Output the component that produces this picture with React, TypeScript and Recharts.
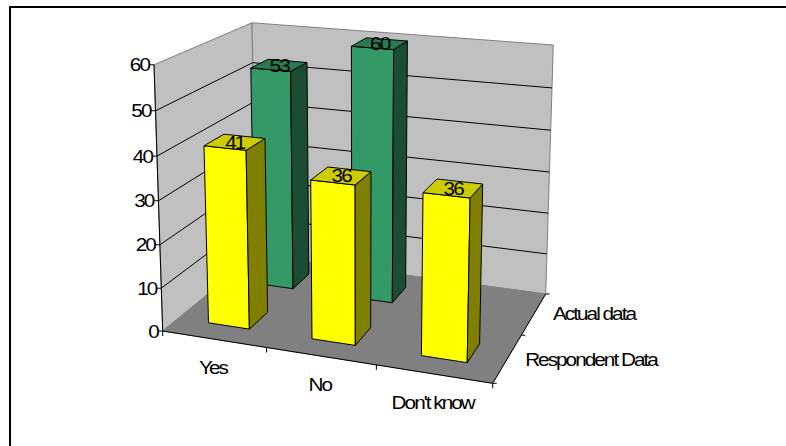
import { Bar, BarChart, CartesianGrid, LabelList, XAxis, YAxis } from 'recharts';

const categories = ['Yes', 'No', "Don't know"];
const respondentData = [41, 36, 36];
const actualData = [53, 60, null];
const seriesNames = ['Respondent Data', 'Actual data'];
const valueTicks = [0, 10, 20, 30, 40, 50, 60];

const rows = categories.map((name, i) => ({
  name,
  respondent: respondentData[i],
  actual: actualData[i],
}));

const WIDTH = 786;
const HEIGHT = 446;
// flat plot box that the recharts scales work in, before projecting to 3D
const PLOT = { left: 100, top: 60, width: 500, height: 300 };
const FONT = '"Liberation Sans", Arial, sans-serif';

type Pt = [number, number];

// floor corners: front-left, front-right, back-right, back-left
const FLOOR: Pt[] = [[162.7, 331], [492.7, 383.3], [545.7, 294], [256, 255]];
// verticals converge on this point, far below the chart
const VANISH: Pt = [361, 6373];
const RISE = -0.0422;

const floorH = (() => {
  const [[x0, y0], [x1, y1], [x2, y2], [x3, y3]] = FLOOR;
  const dx1 = x1 - x2, dx2 = x3 - x2, sx = x0 - x1 + x2 - x3;
  const dy1 = y1 - y2, dy2 = y3 - y2, sy = y0 - y1 + y2 - y3;
  const den = dx1 * dy2 - dx2 * dy1;
  const g = (sx * dy2 - dx2 * sy) / den;
  const h = (dx1 * sy - sx * dy1) / den;
  return { x0, y0, ax: x1 - x0 + g * x1, bx: x3 - x0 + h * x3, ay: y1 - y0 + g * y1, by: y3 - y0 + h * y3, g, h };
})();

// (u along categories, v up the value axis, w into the depth) to screen
function project(u: number, v: number, w: number): Pt {
  const H = floorH;
  const nx = H.ax * u + H.bx * w + H.x0;
  const ny = H.ay * u + H.by * w + H.y0;
  const d = H.g * u + H.h * w + 1;
  const k = v * RISE;
  return [(nx + k * VANISH[0]) / (d + k), (ny + k * VANISH[1]) / (d + k)];
}

const toU = (x: number) => (x - PLOT.left) / PLOT.width;
const toV = (y: number) => (PLOT.top + PLOT.height - y) / PLOT.height;
const pts = (list: Pt[]) => list.map((p) => `${p[0].toFixed(1)},${p[1].toFixed(1)}`).join(' ');

// Arial look: glyphs stretched sideways and packed tight
function Txt({ x, y, anchor = 'middle', children }: any) {
  return (
    <text
      transform={`translate(${x} ${y}) scale(1.12 1)`}
      textAnchor={anchor}
      dominantBaseline="central"
      fontFamily={FONT}
      fontSize={18.5}
      letterSpacing={-1.75}
      fill="#000"
    >
      {children}
    </text>
  );
}

// walls, floor, axis lines and the series names sit behind the chart svg
function Backdrop() {
  const tick = (p: Pt, dx: number, dy: number) => (
    <line x1={p[0]} y1={p[1]} x2={p[0] + dx} y2={p[1] + dy} stroke="#000" />
  );
  const spots: Pt[] = [[591, 359], [594, 313]];
  return (
    <svg width={WIDTH} height={HEIGHT} style={{ position: 'absolute', left: 0, top: 0 }}>
      <polygon points={pts([project(0, 0, 0), project(0, 1, 0), project(0, 1, 1), project(0, 0, 1)])} fill="#c0c0c0" stroke="#808080" />
      <polygon points={pts([project(0, 0, 1), project(0, 1, 1), project(1, 1, 1), project(1, 0, 1)])} fill="#c0c0c0" stroke="#808080" />
      <polygon points={pts(FLOOR)} fill="#808080" stroke="#808080" />
      <polyline points={pts([project(0, 1, 0), project(0, 0, 0), project(1, 0, 0), project(1, 0, 1)])} fill="none" stroke="#000" />
      {categories.map((_, i) => <g key={i}>{tick(project((i + 1) / categories.length, 0, 0), 0, 5)}</g>)}
      {tick(project(0, 0, 0), 0, 5)}
      {seriesNames.map((_, i) => <g key={i}>{tick(project(1, 0, (i + 1) / seriesNames.length), 4, 0)}</g>)}
      {tick(project(1, 0, 0), 4, 0)}
      {seriesNames.map((name, i) => (
        <Txt key={name} x={spots[i][0]} y={spots[i][1]}>{name}</Txt>
      ))}
    </svg>
  );
}

function ValueTick({ y, payload }: any) {
  const p = project(0, toV(y), 0);
  return (
    <g>
      <line x1={p[0] - 4} y1={p[1]} x2={p[0]} y2={p[1]} stroke="#000" />
      <Txt x={p[0] - 5} y={p[1]} anchor="end">{payload.value}</Txt>
    </g>
  );
}

function CategoryTick({ x, payload }: any) {
  const p = project(toU(x), 0, 0);
  return <Txt x={p[0] - 1} y={p[1] + 28}>{payload.value}</Txt>;
}

// grid line runs along the side wall and on across the back wall
function GridLine({ y1 }: any) {
  const v = toV(y1);
  if (v <= 0.001 || v >= 0.999) return null;
  return <polyline points={pts([project(0, v, 0), project(0, v, 1), project(1, v, 1)])} fill="none" stroke="#000" />;
}

// box for one value; depth row [w0, w1] is bound per series
function box(w0: number, w1: number, front: string, side: string, top: string) {
  return ({ x, y, width, height }: any) => {
    if (!height) return <g />;
    const u0 = toU(x);
    const u1 = toU(x + width);
    const v = toV(y);
    return (
      <g stroke="#000" strokeLinejoin="round">
        <polygon points={pts([project(u0, 0, w0), project(u1, 0, w0), project(u1, v, w0), project(u0, v, w0)])} fill={front} />
        <polygon points={pts([project(u1, 0, w0), project(u1, 0, w1), project(u1, v, w1), project(u1, v, w0)])} fill={side} />
        <polygon points={pts([project(u0, v, w0), project(u1, v, w0), project(u1, v, w1), project(u0, v, w1)])} fill={top} />
      </g>
    );
  };
}

function topLabel(w: number) {
  return ({ x, y, width, value }: any) => {
    if (value == null) return null;
    const p = project(toU(x + width / 2), toV(y), w);
    return <Txt x={p[0]} y={p[1]}>{value}</Txt>;
  };
}

export default function App() {
  return (
    <div style={{ position: 'absolute', left: 0, top: 0, width: WIDTH, height: HEIGHT, background: '#fff', overflow: 'hidden' }}>
      <div style={{ position: 'absolute', left: 9, top: 6, width: WIDTH, height: HEIGHT, borderLeft: '2px solid #000', borderTop: '2px solid #000' }} />
      <Backdrop />
      <div style={{ position: 'absolute', left: 0, top: 0 }}>
        <BarChart
          width={WIDTH}
          height={HEIGHT}
          data={rows}
          barCategoryGap="30%"
          margin={{ left: PLOT.left - 1, top: PLOT.top, right: WIDTH - PLOT.left - PLOT.width, bottom: HEIGHT - PLOT.top - PLOT.height - 1 }}
        >
          <CartesianGrid horizontal={(props: any) => <GridLine key={props.index} {...props} />} vertical={false} />
          <XAxis dataKey="name" height={1} axisLine={false} tickLine={false} interval={0} tick={<CategoryTick />} />
          <XAxis xAxisId="back" dataKey="name" hide />
          <YAxis domain={[0, 60]} ticks={valueTicks} width={1} axisLine={false} tickLine={false} tick={<ValueTick />} />
          <Bar xAxisId="back" dataKey="actual" isAnimationActive={false} shape={box(0.65, 0.85, '#339966', '#1a4d33', '#297a52')}>
            <LabelList dataKey="actual" content={topLabel(0.75)} />
          </Bar>
          <Bar dataKey="respondent" isAnimationActive={false} shape={box(0.15, 0.35, '#ffff00', '#808000', '#cccc00')}>
            <LabelList dataKey="respondent" content={topLabel(0.25)} />
          </Bar>
        </BarChart>
      </div>
    </div>
  );
}
